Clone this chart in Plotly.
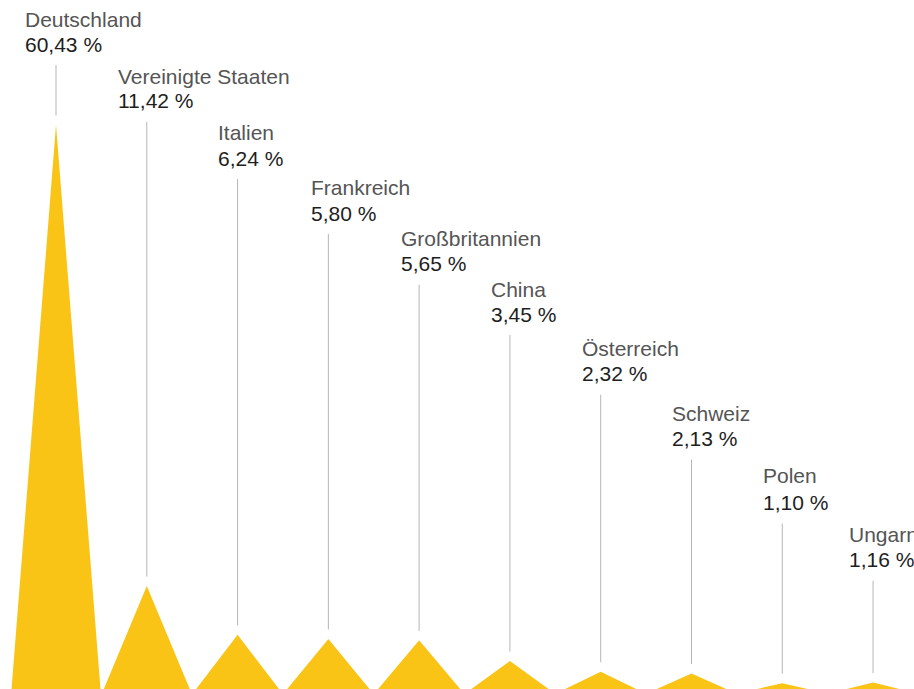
import plotly.graph_objects as go

# Share by country (percent)
countries = ["Deutschland", "Vereinigte Staaten", "Italien", "Frankreich", "Großbritannien",
             "China", "Österreich", "Schweiz", "Polen", "Ungarn"]
shares = [60.43, 11.42, 6.24, 5.80, 5.65, 3.45, 2.32, 2.13, 1.10, 1.16]
share_labels = ["60,43 %", "11,42 %", "6,24 %", "5,80 %", "5,65 %",
                "3,45 %", "2,32 %", "2,13 %", "1,10 %", "1,16 %"]

# Label placement (pixels from top of the page / left shift from the leader line)
name_y_px = [19.5, 76.5, 133, 187, 238.5, 289, 349, 413, 475, 534]
value_y_px = [44, 101, 158, 213, 263.7, 314, 373.7, 438.5, 502.5, 559.7]
text_dx_px = [-32.5, -30, -20.5, -18.5, -19.5, -19.8, -19.8, -20.7, -19.9, -25.2]

W, H = 914, 689
Y_RANGE = [0.48, 73.70]
X_RANGE = [-0.617, 9.451]
GOLD = "#F9C416"


def px_to_y(px):
    return Y_RANGE[1] - px * (Y_RANGE[1] - Y_RANGE[0]) / H


xs = list(range(len(countries)))

# Spikes: one filled triangle per country
tx, ty = [], []
half = 0.494
for i, v in zip(xs, shares):
    tx += [i - half, i, i + half, i - half, None]
    ty += [0, v, 0, 0, None]

fig = go.Figure()
fig.add_trace(go.Scatter(x=tx, y=ty, mode="lines", fill="toself",
                         fillcolor=GOLD, line=dict(width=0, color=GOLD),
                         hoverinfo="skip", showlegend=False))

# Leader lines from label to spike tip
lx, ly = [], []
for i, v, vy in zip(xs, shares, value_y_px):
    lx += [i, i, None]
    ly += [px_to_y(vy + 21), v + 1.0, None]
fig.add_trace(go.Scatter(x=lx, y=ly, mode="lines",
                         line=dict(width=1, color="#b5b5b5"),
                         hoverinfo="skip", showlegend=False))

annotations = []
for i, name, lab, ny, vy, dx in zip(xs, countries, share_labels, name_y_px, value_y_px, text_dx_px):
    annotations.append(dict(x=i, y=1 - ny / H, xref="x", yref="paper", text=name,
                            showarrow=False, xanchor="left", yanchor="middle",
                            xshift=dx, borderpad=0,
                            font=dict(family="Liberation Sans, Arial, sans-serif",
                                      size=21, color="#555555")))
    annotations.append(dict(x=i, y=1 - vy / H, xref="x", yref="paper", text=lab,
                            showarrow=False, xanchor="left", yanchor="middle",
                            xshift=dx, borderpad=0,
                            font=dict(family="Liberation Sans, Arial, sans-serif",
                                      size=21, color="#1e1e1e")))

fig.update_layout(
    width=W, height=H,
    margin=dict(l=0, r=0, t=0, b=0),
    paper_bgcolor="white", plot_bgcolor="white",
    xaxis=dict(range=X_RANGE, visible=False, fixedrange=True),
    yaxis=dict(range=Y_RANGE, visible=False, fixedrange=True),
    annotations=annotations,
    showlegend=False,
)

fig.write_html("out.html", config={"displayModeBar": False})
